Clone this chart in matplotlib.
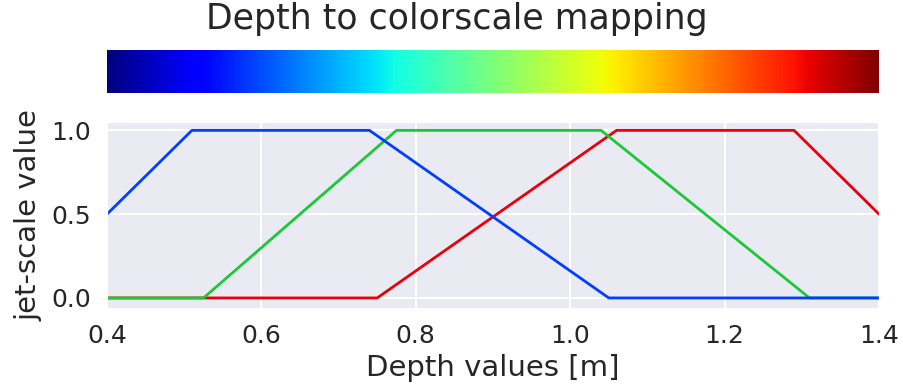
import numpy as np
import matplotlib
import matplotlib.pyplot as plt
import seaborn as sns

# depth range [m] mapped onto the jet colour scale
depth_min = 0.4
depth_max = 1.4

# channel breakpoints (depth [m], value)
red_depth = [0.40, 0.75, 1.06, 1.29, 1.40]
red_value = [0.0, 0.0, 1.0, 1.0, 0.5]
green_depth = [0.40, 0.525, 0.775, 1.04, 1.31, 1.40]
green_value = [0.0, 0.0, 1.0, 1.0, 0.0, 0.0]
blue_depth = [0.40, 0.51, 0.74, 1.05, 1.40]
blue_value = [0.5, 1.0, 1.0, 0.0, 0.0]

x_ticks = [0.4, 0.6, 0.8, 1.0, 1.2, 1.4]
y_ticks = [0.0, 0.5, 1.0]

sns.set_style('darkgrid')
plt.rcParams['font.family'] = ['DejaVu Sans']
pal = sns.color_palette('bright')

fig = plt.figure(figsize=(9.04, 3.9), dpi=100)
cax = fig.add_axes([107 / 904, 1 - 93 / 390, 772 / 904, 43 / 390])
ax = fig.add_axes([107 / 904, 1 - 308 / 390, 772 / 904, 186 / 390])

# colour bar on top
norm = matplotlib.colors.Normalize(vmin=depth_min, vmax=depth_max)
sm = matplotlib.cm.ScalarMappable(norm=norm, cmap='jet')
cb = fig.colorbar(sm, cax=cax, orientation='horizontal')
cb.outline.set_visible(False)
cb.set_ticks([])
fig.suptitle('Depth to colorscale mapping', fontsize=25, color='#262626',
             x=0.505, y=0.995, va='top')

ax.plot(red_depth, red_value, color=pal[3], lw=2)
ax.plot(green_depth, green_value, color=pal[2], lw=2)
ax.plot(blue_depth, blue_value, color=pal[0], lw=2)

ax.set_xlim(depth_min, depth_max)
ax.set_ylim(-0.06, 1.05)
ax.set_xticks(x_ticks)
ax.set_yticks(y_ticks)
ax.tick_params(labelsize=18, colors='#262626', pad=8)
ax.set_xlabel('Depth values [m]', fontsize=21, color='#262626', labelpad=4)
ax.set_ylabel('jet-scale value', fontsize=21, color='#262626', labelpad=6)
ax.grid(True, color='white', lw=1.5)

fig.savefig('out.png', dpi=100)
